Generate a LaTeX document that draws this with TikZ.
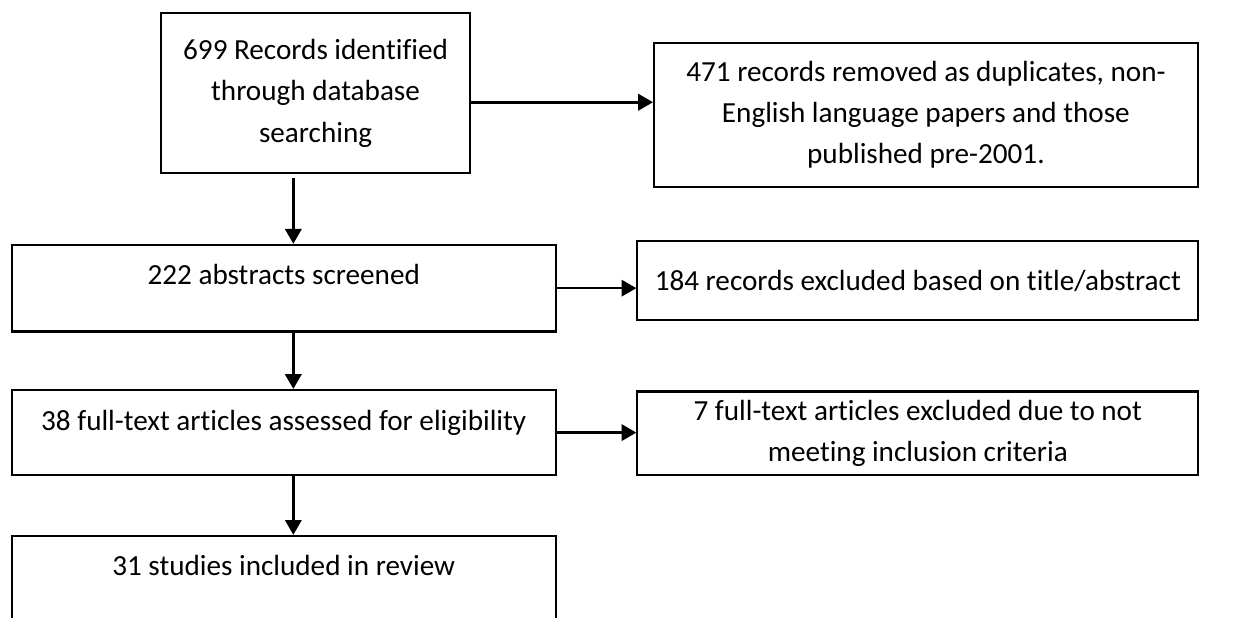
\documentclass[tikz,border=0pt]{standalone}
\usepackage{fontspec}
\setmainfont{Carlito}[Ligatures=NoCommon]
\usetikzlibrary{arrows.meta, positioning, calc}

\begin{document}
\begin{tikzpicture}[
    box/.style={rectangle, draw=black, line width=0.8pt, inner sep=0pt, align=center, font=\fontsize{11.2}{15.8}\selectfont},
    topline/.style={text height=0.54cm, text depth=#1},
    arr/.style={-{Triangle[length=2mm, width=2.2mm]}, line width=1pt}
]
\useasboundingbox (0,0) rectangle (16.74,-8.33);
\clip (0,0) rectangle (16.74,-8.33);

\node[box, minimum width=4.17cm, minimum height=2.16cm] (ident) at (4.26,-1.26) {699 Records identified\\through database\\searching};
\node[box, minimum width=7.34cm, minimum height=1.94cm] (dupl) at (12.50,-1.55) {471 records removed as duplicates, non-\\English language papers and those\\published pre-2001.};
\node[box, minimum width=7.34cm, topline=0.63cm] (screen) at (3.83,-3.89) {222 abstracts screened};
\node[box, minimum width=7.57cm, minimum height=1.07cm] (excla) at (12.39,-3.79) {184 records excluded based on title/abstract};
\node[box, minimum width=7.34cm, topline=0.61cm] (full) at (3.83,-5.84) {38 full-text articles assessed for eligibility};
\node[box, minimum width=7.57cm, minimum height=1.13cm] (exclb) at (12.39,-5.85) {7 full-text articles excluded due to not\\meeting inclusion criteria};
\node[box, minimum width=7.34cm, topline=1cm, anchor=north] (incl) at (3.83,-7.22) {31 studies included in review};

\coordinate (spine) at (3.96,0);

\draw[arr] ([yshift=-1.2mm]ident.east) -- ([yshift=-1.2mm]ident.east -| dupl.west);
\draw[arr, shorten <=0.5mm] (spine |- ident.south) -- (spine |- screen.north);
\draw[arr] (screen.east) -- (screen.east -| excla.west);
\draw[arr] (spine |- screen.south) -- (spine |- full.north);
\draw[arr] (full.east) -- (full.east -| exclb.west);
\draw[arr] (spine |- full.south) -- (spine |- incl.north);
\end{tikzpicture}
\end{document}
